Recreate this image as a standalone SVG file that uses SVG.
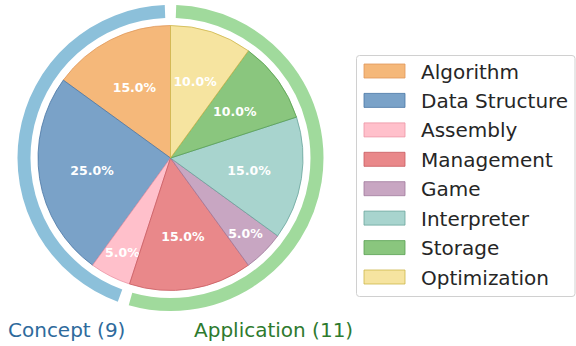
<svg xmlns="http://www.w3.org/2000/svg" width="576" height="346" viewBox="0 0 576 346">
<style>
.w{stroke-width:0.8;stroke-linejoin:round}
.pct{font-family:"DejaVu Sans",sans-serif;font-weight:bold;font-size:12.5px;fill:#ffffff;text-anchor:middle}
.lg{font-family:"DejaVu Sans",sans-serif;font-size:20px;fill:#262626}
.grp{font-family:"DejaVu Sans",sans-serif;font-size:20px}
.ring{fill:none;stroke-width:13;stroke-linecap:butt}
.alg{fill:#f5b87a;stroke:#e0985a}
.ds{fill:#7aa2c8;stroke:#4a76a4}
.asm{fill:#ffc0cb;stroke:#ec94a4}
.mgt{fill:#e9888a;stroke:#c85a60}
.gam{fill:#c8a6c2;stroke:#a07a9c}
.int{fill:#a8d4ce;stroke:#6aa49c}
.sto{fill:#8ac67e;stroke:#58a050}
.opt{fill:#f6e4a0;stroke:#cdb64a}
</style>
<rect width="576" height="346" fill="#ffffff"/>
<g id="ring">
<path id="ring-concept" class="ring" stroke="#8cc0da" d="M165.00,11.60 A146.5,146.5 0 0 0 120.02,295.53"/>
<path id="ring-application" class="ring" stroke="#a0da9c" d="M130.49,298.93 A146.5,146.5 0 1 0 176.00,11.60"/>
</g>
<g id="pie">
<g id="algorithm"><path class="w alg" d="M170.5,158 L170.5,25.5 A132.5,132.5 0 0 0 63.31,80.12 Z"/><text class="pct" x="134.4" y="91.5">15.0%</text></g>
<g id="data-structure"><path class="w ds" d="M170.5,158 L63.31,80.12 A132.5,132.5 0 0 0 92.62,265.19 Z"/><text class="pct" x="92" y="174.6">25.0%</text></g>
<g id="assembly"><path class="w asm" d="M170.5,158 L92.62,265.19 A132.5,132.5 0 0 0 129.55,284.01 Z"/><text class="pct" x="122.4" y="257">5.0%</text></g>
<g id="management"><path class="w mgt" d="M170.5,158 L129.55,284.01 A132.5,132.5 0 0 0 248.38,265.19 Z"/><text class="pct" x="182.9" y="240.7">15.0%</text></g>
<g id="game"><path class="w gam" d="M170.5,158 L248.38,265.19 A132.5,132.5 0 0 0 277.69,235.88 Z"/><text class="pct" x="245.5" y="237.5">5.0%</text></g>
<g id="interpreter"><path class="w int" d="M170.5,158 L277.69,235.88 A132.5,132.5 0 0 0 296.51,117.05 Z"/><text class="pct" x="249" y="174.6">15.0%</text></g>
<g id="storage"><path class="w sto" d="M170.5,158 L296.51,117.05 A132.5,132.5 0 0 0 248.38,50.81 Z"/><text class="pct" x="234.8" y="115.5">10.0%</text></g>
<g id="optimization"><path class="w opt" d="M170.5,158 L248.38,50.81 A132.5,132.5 0 0 0 170.5,25.5 Z"/><text class="pct" x="195.1" y="86.4">10.0%</text></g>
</g>
<g id="group-labels">
<text class="grp" x="8" y="337" fill="#2e6a9c">Concept (9)</text>
<text class="grp" x="194" y="337" fill="#2e7a2e">Application (11)</text>
</g>
<g id="legend">
<rect x="356.5" y="55.5" width="218.5" height="241" rx="3" fill="#ffffff" stroke="#d0d0d0" stroke-width="1"/>
<rect class="w alg" x="364" y="64" width="41" height="14"/><text class="lg" x="421" y="78.5">Algorithm</text>
<rect class="w ds" x="364" y="93.4" width="41" height="14"/><text class="lg" x="421" y="107.9">Data Structure</text>
<rect class="w asm" x="364" y="122.9" width="41" height="14"/><text class="lg" x="421" y="137.4">Assembly</text>
<rect class="w mgt" x="364" y="152.3" width="41" height="14"/><text class="lg" x="421" y="166.8">Management</text>
<rect class="w gam" x="364" y="181.7" width="41" height="14"/><text class="lg" x="421" y="196.2">Game</text>
<rect class="w int" x="364" y="211.1" width="41" height="14"/><text class="lg" x="421" y="225.6">Interpreter</text>
<rect class="w sto" x="364" y="240.6" width="41" height="14"/><text class="lg" x="421" y="255.1">Storage</text>
<rect class="w opt" x="364" y="270" width="41" height="14"/><text class="lg" x="421" y="284.5">Optimization</text>
</g>
</svg>
